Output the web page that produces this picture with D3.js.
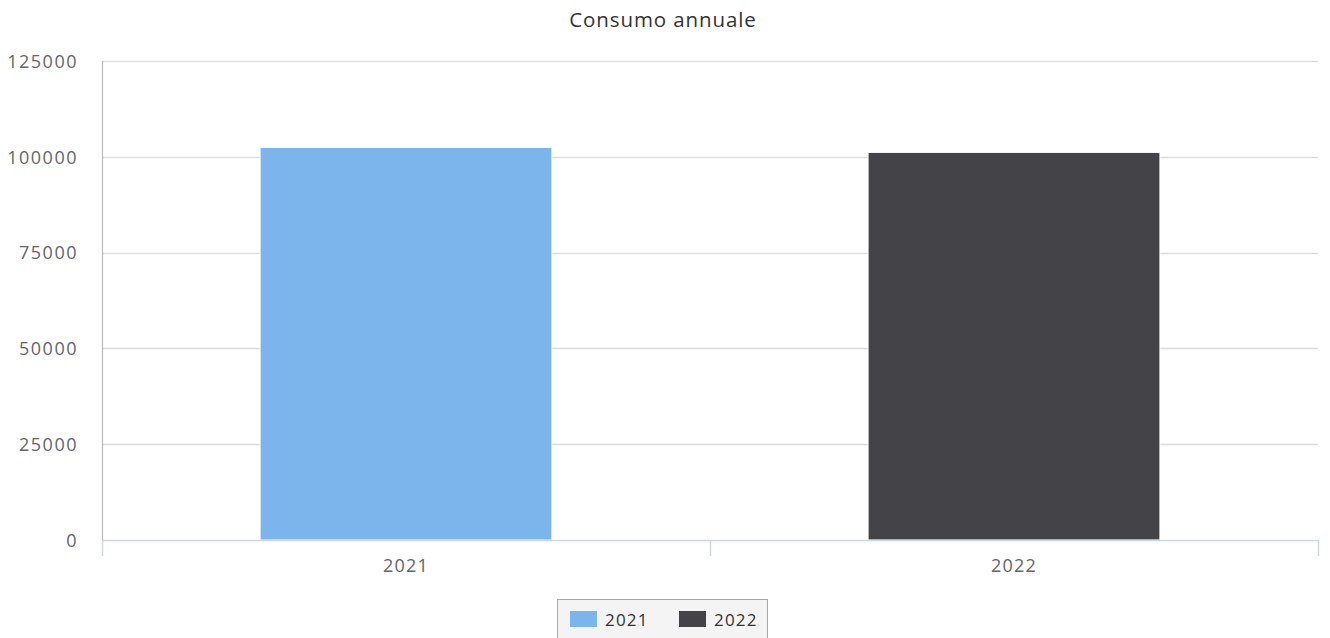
<!DOCTYPE html>
<html>
<head>
<meta charset="utf-8">
<script src="https://cdn.jsdelivr.net/npm/d3@7"></script>
<style>
  html, body { margin: 0; padding: 0; background: #fff; }
  svg { display: block; font-family: "Open Sans", "Noto Sans", sans-serif; }
</style>
</head>
<body>
<svg id="chart" width="1330" height="638"></svg>
<script>
// Annual consumption per year
const categories = ["2021", "2022"];
const values = [102450, 101150];
const seriesColors = ["#7cb5ec", "#434348"];
const yTicks = [0, 25000, 50000, 75000, 100000, 125000];
const titleText = "Consumo annuale";

const svg = d3.select("#chart");
const plot = { left: 102, right: 1318, top: 61, bottom: 540 };

const y = d3.scaleLinear().domain([0, 125000]).range([plot.bottom, plot.top]);
const xCat = d3.scaleBand().domain(categories).range([plot.left, plot.right]).padding(0);
const xBar = d3.scaleBand().domain(categories).range([plot.left, plot.right])
  .paddingInner(0.52).paddingOuter(0.26);

// Title
svg.append("text")
  .attr("x", 663).attr("y", 27)
  .attr("text-anchor", "middle")
  .attr("font-size", 20.5)
  .attr("letter-spacing", 0.9)
  .attr("fill", "#333333")
  .text(titleText);

// Gridlines
svg.append("g")
  .selectAll("line")
  .data(yTicks.filter(d => d !== 0))
  .join("line")
  .attr("x1", plot.left).attr("x2", plot.right)
  .attr("y1", d => Math.round(y(d)) + 0.5).attr("y2", d => Math.round(y(d)) + 0.5)
  .attr("stroke", "#dcdcdc").attr("stroke-width", 1.5);

// Y axis labels
const yAxis = d3.axisLeft(y).tickValues(yTicks).tickSize(0).tickPadding(0).tickFormat(d3.format("d"));
const gy = svg.append("g").attr("transform", `translate(78,0)`).call(yAxis);
gy.select(".domain").remove();
gy.selectAll("text")
  .attr("font-size", 18)
  .attr("letter-spacing", 1.5)
  .attr("fill", "#666666")
  .attr("font-family", "Open Sans, sans-serif")
  .attr("dy", "0.35em");

// Y axis line
svg.append("line")
  .attr("x1", plot.left + 0.5).attr("x2", plot.left + 0.5)
  .attr("y1", plot.top).attr("y2", plot.bottom)
  .attr("stroke", "#b8b8b8").attr("stroke-width", 1.2);

// Bars
svg.append("g")
  .selectAll("rect")
  .data(categories.map((c, i) => ({ c, v: values[i], color: seriesColors[i] })))
  .join("rect")
  .attr("x", d => xBar(d.c))
  .attr("width", xBar.bandwidth())
  .attr("y", d => y(d.v))
  .attr("height", d => y(0) - y(d.v))
  .attr("fill", d => d.color)
  .attr("stroke", "#ffffff").attr("stroke-width", 1);

// X axis
const xAxis = d3.axisBottom(xCat).tickSize(0).tickPadding(0);
const gx = svg.append("g").attr("transform", `translate(0,${plot.bottom})`).call(xAxis);
gx.select(".domain").remove();
gx.selectAll("text")
  .attr("font-size", 18)
  .attr("letter-spacing", 1.2)
  .attr("fill", "#666666")
  .attr("font-family", "Open Sans, sans-serif")
  .attr("dy", 0).attr("y", 32);

svg.append("line")
  .attr("x1", plot.left).attr("x2", plot.right)
  .attr("y1", plot.bottom + 0.5).attr("y2", plot.bottom + 0.5)
  .attr("stroke", "#ccd6eb").attr("stroke-width", 1.5);

const boundaries = categories.map(c => xCat(c)).concat([plot.right]);
svg.append("g")
  .selectAll("line")
  .data(boundaries)
  .join("line")
  .attr("x1", d => Math.round(d) + 0.5).attr("x2", d => Math.round(d) + 0.5)
  .attr("y1", plot.bottom).attr("y2", plot.bottom + 16)
  .attr("stroke", "#ccd6eb").attr("stroke-width", 1.5);

// Legend
const legend = svg.append("g");
legend.append("rect")
  .attr("x", 557.5).attr("y", 599.5)
  .attr("width", 210).attr("height", 50)
  .attr("fill", "#f4f4f4").attr("stroke", "#a8a8a8").attr("stroke-width", 1);

const legendX = [570, 679];
const items = legend.selectAll("g.item")
  .data(categories.map((c, i) => ({ c, color: seriesColors[i], x: legendX[i] })))
  .join("g").attr("class", "item")
  .attr("transform", d => `translate(${d.x},611)`);
items.append("rect")
  .attr("width", 27).attr("height", 16)
  .attr("fill", d => d.color);
items.append("text")
  .attr("x", 35).attr("y", 15)
  .attr("font-size", 17)
  .attr("letter-spacing", 1.2)
  .attr("fill", "#333333")
  .text(d => d.c);
</script>
</body>
</html>
